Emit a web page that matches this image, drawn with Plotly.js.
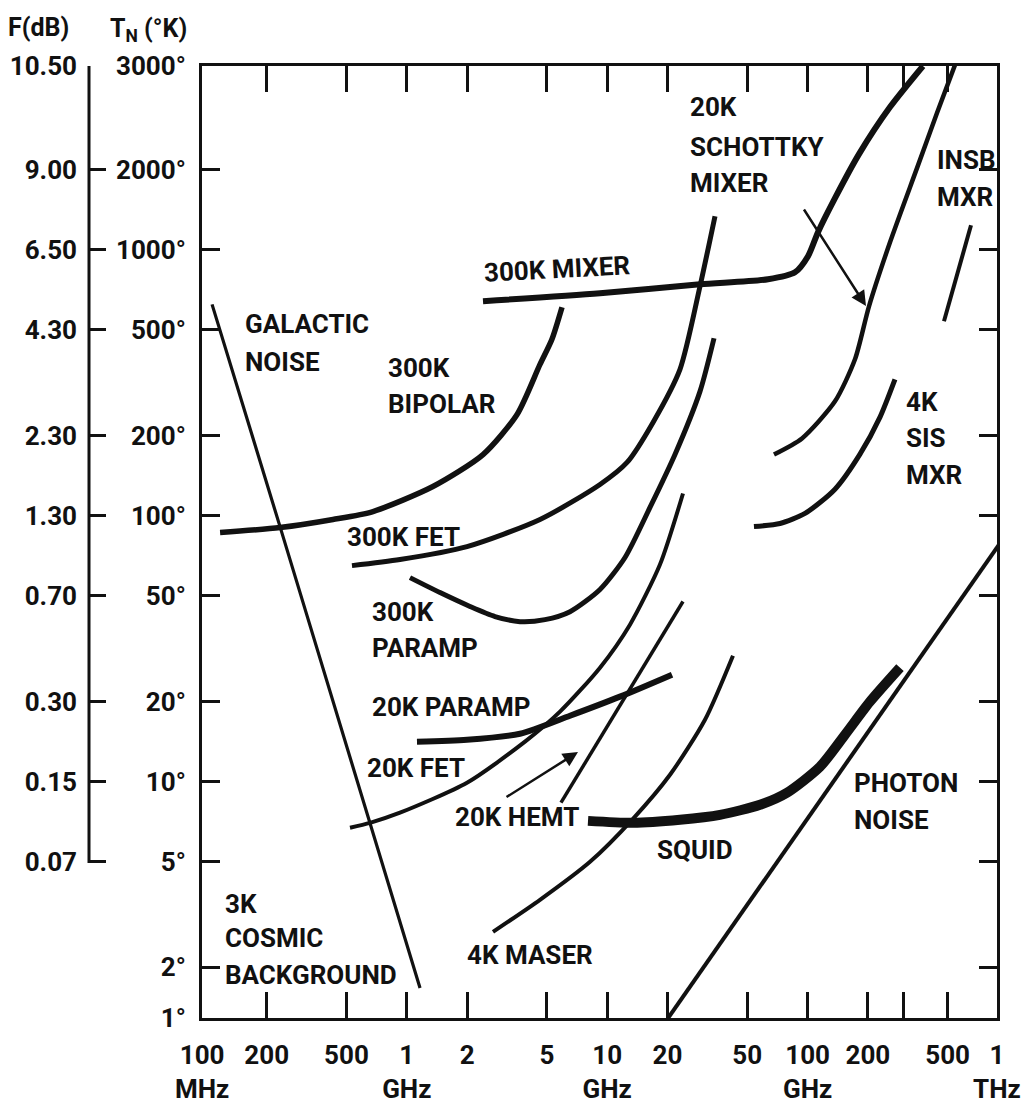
<!DOCTYPE html>
<html>
<head>
<meta charset="utf-8">
<script src="https://cdn.plot.ly/plotly-3.0.1.min.js"></script>
<style>
  html, body { margin: 0; padding: 0; background: #ffffff; }
  #chart { width: 1024px; height: 1109px; }
</style>
</head>
<body>
<div id="chart"></div>
<script>
// ---------------- data (frequency in GHz, noise temperature in K) ----------------
const galacticF = [0.1067, 0.2330, 1.164];
const galacticT = [622, 90.8, 1.673];

const bipolar300F = [0.117, 0.233, 0.428, 0.678, 1.35, 2.40, 3.55, 4.62, 5.30, 5.95];
const bipolar300T = [86.3, 90.1, 96.6, 103.5, 128.5, 169.4, 239.7, 369.8, 460, 607];

const mixer300F = [2.40, 9.21, 29.05, 63.45, 86.5, 100.5, 112.7, 137.0, 180.5, 257.8, 376.5];
const mixer300T = [639, 685, 740, 773, 821, 944, 1162, 1560, 2284, 3432, 4897];

const fet300F = [0.5326, 0.9248, 1.997, 4.620, 9.207, 12.56, 16.93, 23.08, 29.05, 34.51];
const fet300T = [64.8, 68.3, 76.4, 96.6, 130.8, 158.3, 223.9, 354.4, 727.8, 1335];

const paramp300F = [1.037, 1.465, 2.067, 2.755, 3.672, 4.893, 6.523, 9.207, 12.27, 16.35, 21.79, 29.05, 34.12];
const paramp300T = [58.4, 51.3, 45.5, 41.7, 39.9, 40.6, 43.5, 52.7, 69.5, 107.2, 169.6, 292.9, 463.8];

const paramp20F = [1.124, 1.997, 3.672, 6.523, 11.58, 21.06];
const paramp20T = [14.11, 14.35, 15.12, 17.67, 20.84, 25.21];

const fet20F = [0.5206, 0.6553, 0.9248, 1.997, 3.889, 5.813, 9.207, 12.99, 18.34, 23.89];
const fet20T = [6.70, 6.99, 7.63, 9.89, 14.11, 18.30, 26.79, 38.87, 65.4, 121];

const hemt20F = [5.88, 23.89];
const hemt20T = [8.32, 47.5];

const maser4F = [2.692, 4.620, 8.209, 13.45, 20.58, 30.76, 42.43];
const maser4T = [2.72, 3.59, 4.99, 7.24, 10.6, 17.07, 29.72];

const squidF = [8.022, 13.45, 23.08, 36.55, 57.88, 78.91, 115.3, 153.7, 204.8, 289.1];
const squidT = [7.11, 6.99, 7.18, 7.49, 8.17, 9.07, 11.36, 14.99, 19.95, 26.79];

const photonF = [20.0, 1000];
const photonT = [1.28, 86.9];

const sis4F = [54.0, 72.83, 97.06, 137.0, 182.6, 229.8, 272.9];
const sis4T = [90.9, 93.3, 101.8, 125.6, 170.1, 234.4, 324.9];

const schottky20F = [67.97, 93.76, 137.0, 172.4, 202.5, 257.8, 351.5, 442.3, 543.8];
const schottky20T = [169.6, 194.9, 268.6, 386.5, 611.7, 1065, 2023, 3258, 4940];

const insbF = [479.3, 653.8];
const insbT = [537.4, 1234];

// axis ticks
const freqTickVals = [0.0952, 0.2, 0.5, 1, 2, 5, 10, 20, 50, 100, 200, 300, 500, 880];
const freqTickText = ['100<br>MHz', '200', '500', '1<br>GHz', '2', '5', '10<br>GHz', '20', '50', '100<br>GHz', '200', '', '500', '1<br>THz'];
const tempTickVals = [1.291, 2, 5, 10, 20, 50, 100, 200, 500, 1000, 2000, 4890];
const tempTickText = ['1°', '2°', '5°', '10°', '20°', '50°', '100°', '200°', '500°', '1000°', '2000°', '3000°'];
const fdbTickVals = [5, 10, 20, 50, 100, 200, 500, 1000, 2000, 4890];
const fdbTickText = ['0.07', '0.15', '0.30', '0.70', '1.30', '2.30', '4.30', '6.50', '9.00', '10.50'];

// ---------------- layout helpers ----------------
const W = 1024, H = 1109, ML = 0, MR = 27, MT = 66, MB = 91;
const PW = W - ML - MR, PH = H - MT - MB;
const px = X => (X - ML) / PW;
const py = Y => (H - MB - Y) / PH;
const INK = '#111111';
const FONT = "Roboto, 'Liberation Sans', sans-serif";

function curve(xs, ys, width, shape) {
  return {
    type: 'scatter', mode: 'lines', x: xs, y: ys,
    line: { color: INK, width: width, shape: shape || 'spline', smoothing: 0.7 },
    hoverinfo: 'skip', showlegend: false
  };
}

const traces = [
  curve(galacticF, galacticT, 3.2, 'linear'),
  curve(bipolar300F, bipolar300T, 5.5),
  curve(mixer300F, mixer300T, 6),
  curve(fet300F, fet300T, 5),
  curve(paramp300F, paramp300T, 5),
  curve(paramp20F, paramp20T, 6),
  curve(fet20F, fet20T, 4),
  curve(hemt20F, hemt20T, 3.5, 'linear'),
  curve(maser4F, maser4T, 4),
  curve(squidF, squidT, 10),
  curve(photonF, photonT, 4, 'linear'),
  curve(sis4F, sis4T, 5),
  curve(schottky20F, schottky20T, 4.5),
  curve(insbF, insbT, 4, 'linear'),
  { type: 'scatter', mode: 'markers', x: [1], y: [10], yaxis: 'y2',
    marker: { opacity: 0 }, hoverinfo: 'skip', showlegend: false }
];

function label(text, X, Y, size) {
  return {
    text: text, xref: 'paper', yref: 'paper', x: px(X - 2), y: py(Y),
    xanchor: 'left', yanchor: 'middle', align: 'left', showarrow: false,
    font: { family: FONT, size: size || 26, color: INK, weight: 'bold' }
  };
}
function arrow(tailX, tailY, headX, headY) {
  return {
    text: '', xref: 'paper', yref: 'paper', x: px(headX), y: py(headY),
    axref: 'pixel', ayref: 'pixel', ax: tailX - headX, ay: tailY - headY,
    showarrow: true, arrowhead: 2, arrowsize: 1.2, arrowwidth: 2.5, arrowcolor: INK
  };
}

const annotations = [
  label('GALACTIC', 245, 324), label('NOISE', 245, 362),
  label('300K', 388, 368), label('BIPOLAR', 388, 404),
  Object.assign(label('300K MIXER', 483, 269), { textangle: -3 }),
  label('20K', 690, 107), label('SCHOTTKY', 690, 147), label('MIXER', 690, 183),
  label('INSB', 937, 160), label('MXR', 937, 197),
  label('4K', 906, 402), label('SIS', 906, 438), label('MXR', 906, 475),
  label('300K FET', 347, 537),
  label('300K', 372, 612), label('PARAMP', 372, 648),
  label('20K PARAMP', 372, 707),
  label('20K FET', 367, 768),
  label('20K HEMT', 455, 817),
  label('SQUID', 657, 850),
  label('PHOTON', 854, 783), label('NOISE', 854, 820),
  label('4K MASER', 467, 955),
  label('3K', 225, 904), label('COSMIC', 225, 938), label('BACKGROUND', 225, 975),
  label('F(dB)', 8, 28, 25),
  label('T<sub>N</sub> (°K)', 110, 30, 25),
  arrow(505, 798, 578, 752),
  arrow(803, 208, 866, 306)
];

const tickFont = { family: FONT, size: 26, color: INK, weight: 'bold' };

const layout = {
  width: W, height: H,
  margin: { l: ML, r: MR, t: MT, b: MB, pad: 0 },
  paper_bgcolor: '#ffffff', plot_bgcolor: '#ffffff',
  showlegend: false, hovermode: false,
  xaxis: {
    type: 'log', range: [-1.022, 2.9452], domain: [px(202), 1],
    tickmode: 'array', tickvals: freqTickVals, ticktext: freqTickText, tickangle: 0,
    ticks: 'inside', ticklen: 26, tickwidth: 3, tickcolor: INK,
    showline: true, linewidth: 3, linecolor: INK, mirror: 'ticks',
    showgrid: false, zeroline: false, tickfont: tickFont, ticklabelstandoff: 12
  },
  yaxis: {
    type: 'log', range: [0.1107, 3.6900],
    tickmode: 'array', tickvals: tempTickVals, ticktext: tempTickText,
    ticks: 'inside', ticklen: 18, tickwidth: 3, tickcolor: INK,
    showline: true, linewidth: 3, linecolor: INK, mirror: 'ticks',
    showgrid: false, zeroline: false, tickfont: tickFont, ticklabelstandoff: 8
  },
  yaxis2: {
    type: 'log', range: [0.1107, 3.6900], overlaying: 'y', anchor: 'free',
    position: px(89), side: 'left',
    tickmode: 'array', tickvals: fdbTickVals, ticktext: fdbTickText,
    ticks: 'inside', ticklen: 16, tickwidth: 3, tickcolor: INK,
    showline: false, showgrid: false, zeroline: false, tickfont: tickFont,
    ticklabelstandoff: 12
  },
  shapes: [
    { type: 'line', xref: 'paper', yref: 'paper', x0: px(89), x1: px(89), y0: py(863), y1: py(66),
      line: { color: INK, width: 3 } }
  ],
  annotations: annotations
};

Plotly.newPlot('chart', traces, layout, { staticPlot: true, displayModeBar: false });
</script>
</body>
</html>
